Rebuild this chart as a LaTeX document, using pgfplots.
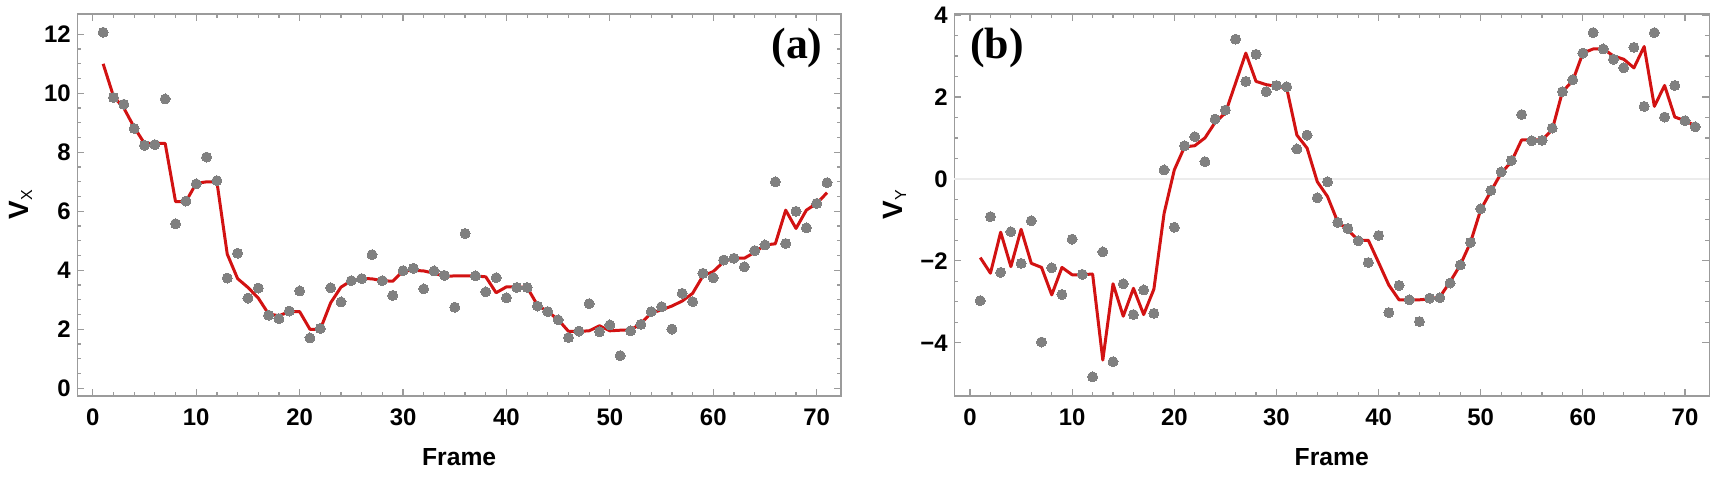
\documentclass[border=0pt]{standalone}
\usepackage{pgfplots}
\pgfplotsset{compat=1.18}
\usepackage{fontspec}
\setmainfont{Liberation Sans}
\newfontfamily\serifbold{Liberation Serif}
\definecolor{ptgray}{RGB}{128,128,128}
\definecolor{fitred}{RGB}{210,18,18}
\definecolor{framegray}{RGB}{155,155,155}
\definecolor{zerogray}{RGB}{236,236,236}

\pgfplotstableread{
x y
1 12.07
2 9.86
3 9.63
4 8.81
5 8.24
6 8.26
7 9.81
8 5.58
9 6.35
10 6.93
11 7.84
12 7.04
13 3.74
14 4.58
15 3.06
16 3.40
17 2.48
18 2.36
19 2.62
20 3.30
21 1.71
22 2.03
23 3.41
24 2.93
25 3.65
26 3.72
27 4.53
28 3.65
29 3.15
30 3.99
31 4.07
32 3.37
33 3.98
34 3.83
35 2.75
36 5.25
37 3.81
38 3.27
39 3.75
40 3.07
41 3.42
42 3.42
43 2.79
44 2.60
45 2.32
46 1.72
47 1.94
48 2.87
49 1.92
50 2.15
51 1.11
52 1.95
53 2.17
54 2.60
55 2.77
56 2.01
57 3.22
58 2.94
59 3.90
60 3.75
61 4.35
62 4.41
63 4.12
64 4.67
65 4.86
66 7.00
67 4.91
68 6.00
69 5.44
70 6.27
71 6.97
}\vxpts

\pgfplotstableread{
x y
1 11.0
2 9.9
3 9.5
4 8.85
5 8.3
6 8.3
7 8.3
8 6.33
9 6.33
10 6.95
11 7.0
12 7.0
13 4.55
14 3.72
15 3.42
16 3.06
17 2.52
18 2.46
19 2.6
20 2.6
21 2.0
22 2.0
23 2.9
24 3.43
25 3.65
26 3.73
27 3.71
28 3.65
29 3.63
30 3.98
31 4.0
32 3.98
33 3.9
34 3.8
35 3.81
36 3.81
37 3.81
38 3.78
39 3.24
40 3.44
41 3.44
42 3.42
43 2.82
44 2.6
45 2.33
46 1.93
47 1.93
48 1.95
49 2.12
50 1.95
51 1.97
52 1.97
53 2.2
54 2.55
55 2.66
56 2.79
57 2.96
58 3.22
59 3.81
60 3.96
61 4.29
62 4.41
63 4.41
64 4.61
65 4.86
66 4.9
67 6.04
68 5.42
69 6.04
70 6.27
71 6.63
}\vxfit

\pgfplotstableread{
x y
1 -2.97
2 -0.92
3 -2.28
4 -1.29
5 -2.06
6 -1.02
7 -3.98
8 -2.17
9 -2.82
10 -1.47
11 -2.33
12 -4.83
13 -1.78
14 -4.46
15 -2.56
16 -3.31
17 -2.71
18 -3.28
19 0.22
20 -1.18
21 0.81
22 1.03
23 0.42
24 1.46
25 1.68
26 3.41
27 2.38
28 3.04
29 2.13
30 2.28
31 2.25
32 0.73
33 1.07
34 -0.46
35 -0.07
36 -1.06
37 -1.21
38 -1.51
39 -2.04
40 -1.38
41 -3.26
42 -2.60
43 -2.95
44 -3.48
45 -2.91
46 -2.90
47 -2.54
48 -2.10
49 -1.55
50 -0.73
51 -0.28
52 0.17
53 0.45
54 1.57
55 0.93
56 0.94
57 1.24
58 2.13
59 2.42
60 3.07
61 3.57
62 3.17
63 2.92
64 2.71
65 3.21
66 1.77
67 3.57
68 1.51
69 2.28
70 1.42
71 1.27
}\vypts

\pgfplotstableread{
x y
1 -1.92
2 -2.30
3 -1.30
4 -2.14
5 -1.23
6 -2.06
7 -2.16
8 -2.83
9 -2.16
10 -2.34
11 -2.34
12 -2.32
13 -4.42
14 -2.56
15 -3.35
16 -2.67
17 -3.31
18 -2.69
19 -0.84
20 0.22
21 0.78
22 0.81
23 1.0
24 1.38
25 1.61
26 2.34
27 3.07
28 2.38
29 2.30
30 2.26
31 2.22
32 1.07
33 0.75
34 -0.07
35 -0.43
36 -1.05
37 -1.24
38 -1.5
39 -1.5
40 -2.04
41 -2.59
42 -2.95
43 -2.95
44 -2.95
45 -2.93
46 -2.88
47 -2.51
48 -2.10
49 -1.55
50 -0.75
51 -0.30
52 0.14
53 0.42
54 0.95
55 0.95
56 0.95
57 1.2
58 2.13
59 2.39
60 3.07
61 3.17
62 3.17
63 3.0
64 2.92
65 2.71
66 3.23
67 1.77
68 2.28
69 1.51
70 1.42
71 1.30
}\vyfit

\pgfplotsset{
  panel/.style={
    scale only axis,
    height=190.85bp,
    axis line style={framegray, line width=0.8bp},
    every tick/.style={framegray, line width=0.6bp},
    major tick length=3.5bp,
    minor tick length=2bp,
    tick align=inside,
    xtick={0,10,...,70},
    xticklabels={0,10,20,30,40,50,60,70},
    minor x tick num=4,
    minor y tick num=3,
    ticklabel style={font=\fontsize{12}{12}\selectfont\bfseries},
    xticklabel style={anchor=north, inner sep=0pt, yshift=-6.3bp},
    yticklabel style={anchor=east, inner sep=0pt, xshift=-3.1bp},
    every axis x label/.style={at={(axis description cs:0.5,0)}, anchor=center, yshift=-30.5bp, font=\fontsize{12.4}{12.4}\selectfont\bfseries},
    every axis y label/.style={at={(axis description cs:0,0.5)}, rotate=90, anchor=center},
    xlabel={Frame},
    clip=false,
  },
  pts/.style={only marks, color=ptgray, mark=*, mark size=2.5bp, mark options={draw=ptgray, fill=ptgray, line width=0pt}},
  fit/.style={no marks, fitred, line width=1.5bp, line join=round},
}

\begin{document}
\begin{tikzpicture}
\useasboundingbox (0,0) rectangle (866bp,240.5bp);
\begin{axis}[panel,
  at={(38.65bp,42.65bp)}, anchor=south west,
  width=381.85bp,
  xmin=-1.5, xmax=72.35, ymin=-0.25, ymax=12.69,
  ytick={0,2,...,12},
  yticklabels={0,2,4,6,8,10,12},
  ylabel={\fontsize{14}{14}\selectfont\bfseries V\raisebox{-1.7bp}{\fontsize{8}{8}\selectfont\mdseries X}},
  ylabel style={yshift=28.2bp},
]
\addplot[fit] table {\vxfit};
\addplot[pts] table {\vxpts};
\node[font=\fontsize{22}{22}\selectfont\serifbold\bfseries] at (axis description cs:0.9424,0.911) {(a)};
\end{axis}
\begin{axis}[panel,
  at={(477.15bp,42.65bp)}, anchor=south west,
  width=377.5bp,
  xmin=-1.54, xmax=72.38, ymin=-5.29, ymax=4.024,
  ytick={-4,-2,0,2,4},
  yticklabels={−4,−2,0,2,4},
  ylabel={\fontsize{14}{14}\selectfont\bfseries V\raisebox{-1.7bp}{\fontsize{8}{8}\selectfont\mdseries Y}},
  ylabel style={yshift=29.7bp},
]
\addplot[zerogray, line width=0.8bp, no marks] coordinates {(-1.54,0) (72.38,0)};
\addplot[fit] table {\vyfit};
\addplot[pts] table {\vypts};
\node[font=\fontsize{22}{22}\selectfont\serifbold\bfseries] at (axis description cs:0.0566,0.911) {(b)};
\end{axis}
\end{tikzpicture}
\end{document}
